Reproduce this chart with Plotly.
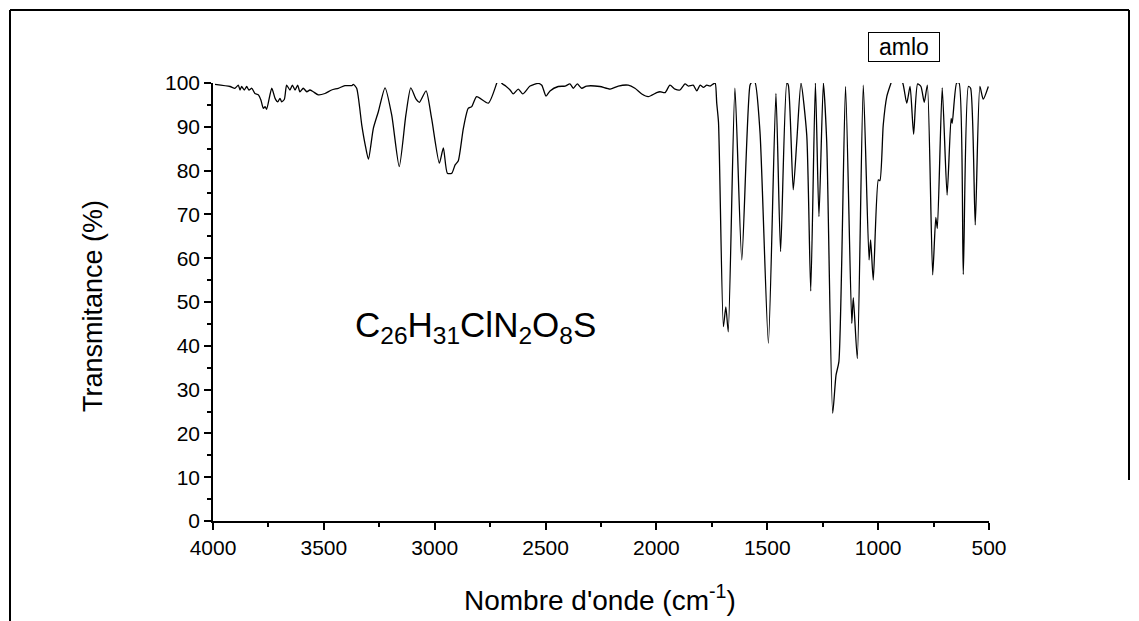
import plotly.graph_objects as go

# Wavenumber (cm-1) and transmittance (%)
wavenumber = [
    3991, 3923, 3901, 3886, 3878, 3871, 3859, 3848, 3838, 3825, 3811, 3796, 3784, 3773, 3765, 3758,
    3735, 3720, 3708, 3698, 3690, 3678, 3668, 3653, 3642, 3630, 3618, 3608, 3593, 3577, 3563, 3548,
    3525, 3495, 3465, 3435, 3405, 3374, 3367, 3352, 3329, 3314, 3299, 3277, 3254, 3224, 3194, 3160,
    3130, 3108, 3084, 3069, 3039, 3014, 2979, 2961, 2943, 2923, 2908, 2894, 2871, 2849, 2833, 2811,
    2758, 2720, 2710, 2698, 2680, 2660, 2646, 2623, 2603, 2570, 2533, 2517, 2498, 2480, 2443, 2412,
    2390, 2375, 2357, 2337, 2315, 2255, 2209, 2172, 2127, 2097, 2066, 2037, 1999, 1984, 1961, 1939,
    1916, 1894, 1871, 1856, 1834, 1818, 1803, 1788, 1773, 1758, 1743, 1735, 1728, 1720, 1698, 1687,
    1676, 1646, 1615, 1578, 1569, 1556, 1533, 1495, 1461, 1440, 1412, 1405, 1383, 1367, 1348, 1322,
    1304, 1283, 1267, 1247, 1232, 1205, 1190, 1177, 1147, 1119, 1112, 1094, 1067, 1041, 1034, 1022,
    999, 992, 977, 961, 942, 924, 889, 871, 856, 840, 822, 807, 792, 778, 754, 740, 733, 711, 689,
    671, 666, 646, 635, 616, 593, 583, 562, 541, 526, 503,
]
transmittance = [
    99.7, 99.2, 98.8, 99.5, 98.4, 99.2, 98.4, 99.2, 98.4, 98.8, 97.6, 97.3, 96.1, 94.2, 94.6, 94.0,
    98.8, 96.5, 95.7, 96.5, 95.7, 96.3, 99.5, 98.4, 99.5, 98.4, 99.5, 98.0, 98.8, 98.0, 98.4, 98.0,
    97.3, 97.6, 98.4, 98.8, 99.4, 99.4, 99.7, 98.8, 90.4, 86.0, 82.6, 89.6, 93.5, 98.9, 92.7, 80.9,
    92.7, 98.9, 96.3, 95.6, 98.2, 91.9, 81.7, 85.2, 79.4, 79.4, 81.3, 82.2, 89.6, 94.2, 94.6, 96.9,
    95.4, 100.0, 101.5, 100.0, 99.3, 98.4, 97.5, 98.6, 97.5, 99.3, 99.9, 99.5, 97.0, 98.2, 99.2, 99.3,
    99.8, 98.8, 99.8, 98.8, 99.3, 99.2, 98.6, 99.3, 99.5, 98.8, 97.5, 96.9, 97.8, 98.0, 97.8, 99.5,
    98.6, 98.4, 99.8, 99.3, 99.5, 98.2, 99.5, 99.0, 99.5, 99.3, 99.8, 100.0, 95.4, 91.0, 44.4, 48.9,
    43.2, 98.8, 59.6, 99.5, 100.2, 100.2, 88.9, 40.6, 97.6, 61.5, 100.0, 99.5, 75.6, 86.6, 100.0, 88.1,
    52.5, 100.0, 69.5, 100.0, 86.6, 24.6, 33.3, 36.4, 99.2, 45.1, 51.0, 37.1, 99.5, 59.6, 64.2, 55.0,
    77.9, 77.7, 90.4, 96.9, 100.0, 103.0, 100.0, 95.4, 99.2, 88.3, 99.8, 99.2, 95.6, 99.5, 56.2, 69.3,
    66.8, 98.9, 74.4, 91.9, 90.8, 100.0, 100.0, 56.3, 99.2, 98.8, 67.6, 99.2, 96.3, 99.2,
]

x_ticks = [4000, 3500, 3000, 2500, 2000, 1500, 1000, 500]
y_ticks = [0, 10, 20, 30, 40, 50, 60, 70, 80, 90, 100]
series_name = "amlo"
formula = "C<sub>26</sub>H<sub>31</sub>ClN<sub>2</sub>O<sub>8</sub>S"
x_title = "Nombre d'onde (cm<sup>-1</sup>)"
y_title = "Transmitance (%)"

FONT = "Liberation Sans, Arial, sans-serif"

fig = go.Figure()
fig.add_trace(go.Scatter(
    x=wavenumber, y=transmittance, mode="lines", name=series_name,
    line=dict(color="black", width=1.3, shape="spline", smoothing=0.6),
    showlegend=False,
))

fig.update_layout(
    width=1139, height=621,
    margin=dict(l=213, r=150, t=83, b=100, autoexpand=False),
    paper_bgcolor="white", plot_bgcolor="white",
    font=dict(family=FONT, color="black"),
)
fig.update_xaxes(
    range=[4000, 500], tickvals=x_ticks, ticktext=[str(v) for v in x_ticks],
    showgrid=False, zeroline=False, showline=True, linecolor="black", linewidth=1.5,
    ticks="outside", ticklen=7, tickwidth=1.5, tickcolor="black", automargin=False,
    minor=dict(dtick=250, ticks="outside", ticklen=4, tickwidth=1.5, tickcolor="black", showgrid=False),
    tickfont=dict(size=21, family=FONT),
)
fig.update_yaxes(
    range=[0, 100], tickvals=y_ticks, ticktext=[str(v) for v in y_ticks],
    showgrid=False, zeroline=False, showline=True, linecolor="black", linewidth=1.5,
    ticks="outside", ticklen=7, tickwidth=1.5, tickcolor="black", automargin=False,
    minor=dict(dtick=5, ticks="outside", ticklen=4, tickwidth=1.5, tickcolor="black", showgrid=False),
    tickfont=dict(size=21, family=FONT),
)

# axis titles
fig.add_annotation(
    xref="paper", yref="paper", x=(600 - 213) / 776, y=(521 - 598) / 438,
    xanchor="center", yanchor="middle", showarrow=False,
    text=x_title, font=dict(size=28, family=FONT),
)
fig.add_annotation(
    xref="paper", yref="paper", x=(93 - 213) / 776, y=(521 - 306) / 438,
    xanchor="center", yanchor="middle", showarrow=False, textangle=-90,
    text=y_title, font=dict(size=27, family=FONT),
)
# legend box
fig.add_annotation(
    xref="paper", yref="paper", x=(904 - 213) / 776, y=(521 - 47) / 438,
    xanchor="center", yanchor="middle",
    text=series_name, showarrow=False, font=dict(size=23, family=FONT),
    bordercolor="black", borderwidth=1, borderpad=1, bgcolor="white",
    width=68,
)
# formula
fig.add_annotation(
    xref="paper", yref="paper", x=(475 - 213) / 776, y=(521 - 327) / 438,
    xanchor="center", yanchor="middle",
    text=formula, showarrow=False, font=dict(size=35, family=FONT),
)
# outer frame
fx0, fx1 = (10 - 213) / 776, (1129 - 213) / 776
fy_top, fy_bot_left, fy_bot_right = (521 - 10) / 438, (521 - 621) / 438, (521 - 480) / 438
for x0, y0, x1, y1 in [(fx0, fy_top, fx1, fy_top), (fx0, fy_top, fx0, fy_bot_left), (fx1, fy_top, fx1, fy_bot_right)]:
    fig.add_shape(type="line", xref="paper", yref="paper", x0=x0, y0=y0, x1=x1, y1=y1,
                  line=dict(color="black", width=2))

fig.write_html("out.html")
